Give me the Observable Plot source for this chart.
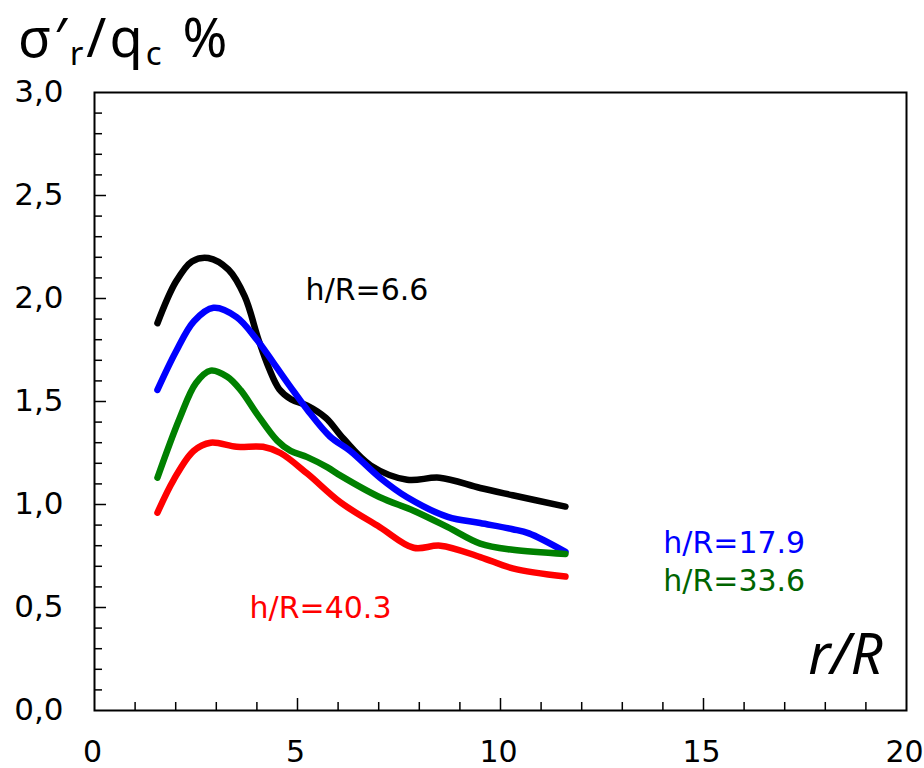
<!DOCTYPE html>
<html>
<head>
<meta charset="utf-8">
<script src="https://cdn.jsdelivr.net/npm/d3@7"></script>
<script src="https://cdn.jsdelivr.net/npm/@observablehq/plot@0.6"></script>
<style>
  body { margin: 0; background: #fff; }
  #wrap { position: relative; width: 924px; height: 768px; }
  #title { position: absolute; z-index: 2; left: 18px; top: 5px; font-family: "Noto Sans", "Open Sans", sans-serif; font-size: 54px; line-height: 62px; letter-spacing: 3px; color: #000; white-space: nowrap; }
  #title sub { font-size: 33px; vertical-align: -8px; line-height: 0; }
  #title .gap { display: inline-block; width: 18px; }
</style>
</head>
<body>
<div id="wrap">
  <div id="title">σ′<sub>r</sub>/q<sub>c</sub><span class="gap"></span>%</div>
</div>
<script>
// r/R values and sigma'_r/q_c (%) values for each h/R
const xBlack = [1.55, 2.0, 2.4, 2.8, 3.3, 3.7, 4.04, 4.3, 4.55, 4.85, 5.24, 5.7, 6.13, 6.8, 7.7, 8.5, 9.5, 10.3, 11.6];
const yBlack = [1.88, 2.08, 2.18, 2.197, 2.14, 2.01, 1.80, 1.66, 1.56, 1.51, 1.48, 1.42, 1.32, 1.19, 1.12, 1.13, 1.08, 1.045, 0.99];

const xBlue = [1.55, 2.0, 2.45, 2.93, 3.5, 4.0, 4.4, 4.83, 5.24, 5.8, 6.3, 7.03, 7.7, 8.7, 9.5, 10.3, 10.7, 11.6];
const yBlue = [1.556, 1.74, 1.89, 1.955, 1.91, 1.80, 1.69, 1.57, 1.46, 1.33, 1.26, 1.13, 1.035, 0.94, 0.91, 0.88, 0.86, 0.77];

const xGreen = [1.55, 2.1, 2.5, 2.86, 3.27, 3.6, 4.0, 4.5, 4.83, 5.24, 5.74, 6.06, 7.03, 7.86, 8.7, 9.5, 10.3, 11.6];
const yGreen = [1.13, 1.42, 1.59, 1.65, 1.62, 1.555, 1.44, 1.31, 1.26, 1.23, 1.18, 1.14, 1.035, 0.97, 0.89, 0.81, 0.78, 0.76];

const xRed = [1.55, 1.95, 2.44, 2.86, 3.5, 4.15, 4.58, 5.24, 6.06, 7.03, 7.86, 8.52, 9.5, 10.3, 11.6];
const yRed = [0.96, 1.12, 1.26, 1.30, 1.28, 1.28, 1.25, 1.15, 1.01, 0.89, 0.79, 0.80, 0.745, 0.69, 0.65];

const seriesNames = ["h/R=6.6", "h/R=17.9", "h/R=33.6", "h/R=40.3"];
const seriesColors = ["#000000", "#0000ff", "#008000", "#ff0000"];
const labelColors = ["#000000", "#0000ff", "#006400", "#ff0000"];
const labelX = [5.2, 14.01, 14.01, 3.82];
const labelY = [2.04, 0.81, 0.627, 0.496];

const xTicks = [0, 5, 10, 15, 20];
const xMinorTicks = [1, 2, 3, 4, 6, 7, 8, 9, 11, 12, 13, 14, 16, 17, 18, 19];
const xMajorInner = [5, 10, 15];
const yTicks = [0, 0.5, 1.0, 1.5, 2.0, 2.5, 3.0];
const yMinorTicks = [0.1, 0.2, 0.3, 0.4, 0.6, 0.7, 0.8, 0.9, 1.1, 1.2, 1.3, 1.4, 1.6, 1.7, 1.8, 1.9, 2.1, 2.2, 2.3, 2.4, 2.6, 2.7, 2.8, 2.9];
const yMajorInner = [0.5, 1.0, 1.5, 2.0, 2.5];

const xAxisTitle = "r/R";

const xs = [xBlack, xBlue, xGreen, xRed];
const ys = [yBlack, yBlue, yGreen, yRed];
const rows = xs.flatMap((xa, i) => xa.map((x, j) => ({x, y: ys[i][j], s: seriesNames[i]})));
const labels = seriesNames.map((name, i) => ({name, x: labelX[i], y: labelY[i], c: labelColors[i]}));

const chart = Plot.plot({
  width: 924,
  height: 768,
  marginLeft: 94,
  marginRight: 18,
  marginTop: 92,
  marginBottom: 58,
  style: {fontFamily: "DejaVu Sans, sans-serif", fontSize: "31px", color: "#000", background: "transparent", overflow: "visible"},
  x: {domain: [0, 20], label: null},
  y: {domain: [0, 3], label: null},
  color: {domain: seriesNames, range: seriesColors},
  marks: [
    Plot.axisX(xMinorTicks, {tickSize: -8, text: null, label: null, stroke: "#000", strokeWidth: 1.5}),
    Plot.axisX(xMajorInner, {tickSize: -12, text: null, label: null, stroke: "#000", strokeWidth: 1.5}),
    Plot.axisX(xTicks, {tickSize: 0, tickPadding: 30, dx: -2, tickFormat: d => String(d), label: null, fontSize: 30}),
    Plot.axisY(yMinorTicks, {tickSize: -8, text: null, label: null, stroke: "#000", strokeWidth: 1.5}),
    Plot.axisY(yMajorInner, {tickSize: -12, text: null, label: null, stroke: "#000", strokeWidth: 1.5}),
    Plot.axisY(yTicks, {tickSize: 0, tickPadding: 31, tickFormat: d => d.toFixed(1).replace(".", ","), label: null, fontSize: 31}),
    Plot.line(rows, {x: "x", y: "y", z: "s", stroke: "s", strokeWidth: 6.5, curve: "catmull-rom", strokeLinecap: "round", strokeLinejoin: "round"}),
    Plot.text(labels, {x: "x", y: "y", text: "name", fill: "c", textAnchor: "start", lineAnchor: "middle", fontSize: 30, fontFamily: "DejaVu Sans, sans-serif"}),
    Plot.text([xAxisTitle], {x: 19.41, y: 0.262, text: d => d, textAnchor: "end", lineAnchor: "middle", fontSize: 56, fontStyle: "italic", fontFamily: "Noto Sans, Open Sans, sans-serif"}),
    Plot.frame({stroke: "#000", strokeWidth: 2})
  ]
});
document.getElementById("wrap").appendChild(chart);
chart.style.position = "absolute";
chart.style.left = "0px";
chart.style.top = "0px";
</script>
</body>
</html>
